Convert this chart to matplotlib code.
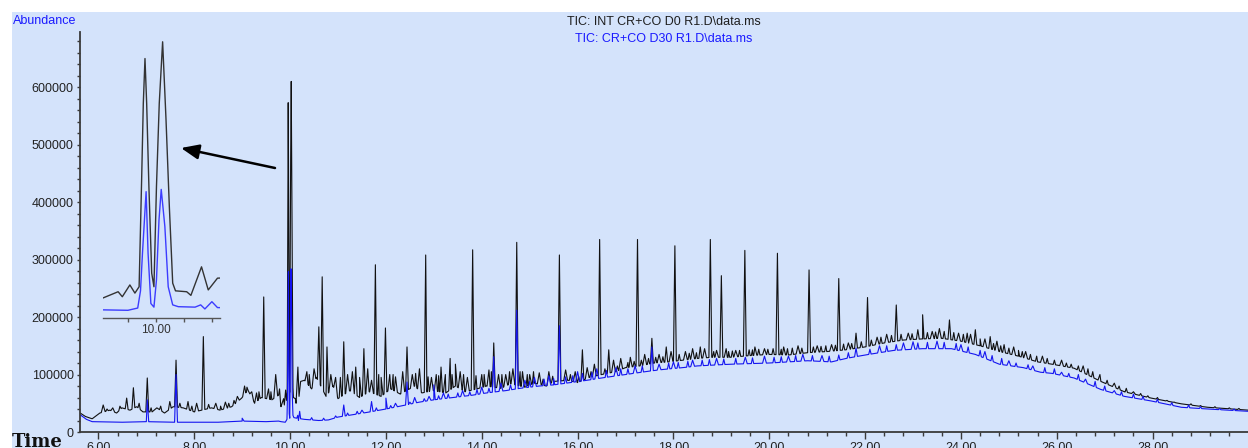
import numpy as np
import matplotlib
matplotlib.use("Agg")
import matplotlib.pyplot as plt
from matplotlib.patches import Rectangle
from matplotlib.ticker import MultipleLocator, FixedLocator, FuncFormatter

W, H = 1248, 448
BG = "#d4e3fb"
BLACK = "#111111"
BLUE = "#1414f0"

# --- black trace (INT CR+CO D0) : baseline anchors, minutes / abundance ---
black_base_t = [5.62, 5.73, 5.87, 6.03, 6.24, 6.38, 6.49, 6.66, 6.80, 6.93, 7.12, 7.22,
                7.38, 7.56, 7.77, 8.00, 8.36, 8.54, 8.78, 8.99, 9.12, 9.26, 9.40, 9.62,
                9.76, 10.30, 10.45, 10.55, 10.75, 10.90, 11.00, 11.25, 11.45, 11.65,
                11.90, 12.10, 12.30, 12.60, 12.75, 13.00, 13.25, 13.45, 13.65, 13.90,
                14.10, 14.40, 14.60, 14.90, 15.10, 15.35, 15.50, 15.80, 16.00, 16.25,
                16.50, 16.80, 17.00, 17.30, 17.60, 17.90, 18.20, 18.50, 18.80, 19.20,
                19.60, 20.00, 20.40, 20.80, 21.20, 21.60, 22.00, 22.40, 22.80, 23.20,
                23.60, 24.00, 24.40, 24.80, 25.20, 25.60, 25.90, 26.36, 26.92, 27.41,
                27.97, 28.60, 29.15, 30.00]
black_base_a = [33000, 27000, 23000, 33000, 38000, 33000, 42000, 38000, 44000, 35000,
                35000, 42000, 33000, 44000, 42000, 35000, 42000, 38000, 44000, 59000,
                73000, 50000, 60000, 56000, 64000, 90000, 75000, 95000, 62000, 80000,
                58000, 72000, 60000, 70000, 62000, 75000, 66000, 80000, 68000, 72000,
                68000, 80000, 70000, 75000, 80000, 76000, 84000, 78000, 85000, 80000,
                88000, 90000, 86000, 95000, 100000, 105000, 112000, 115000, 120000,
                122000, 125000, 128000, 130000, 130000, 133000, 135000, 134000, 138000,
                140000, 143000, 148000, 155000, 160000, 162000, 163000, 158000, 150000,
                140000, 132000, 122000, 118000, 111000, 88000, 70000, 59000, 49000,
                43000, 38000]

# main black peaks (apex time, apex abundance)
black_peak_t = [6.59, 6.73, 7.02, 7.49, 7.62, 7.87, 8.19, 9.45, 10.60, 10.67, 10.77,
                11.12, 11.37, 11.54, 11.78, 11.99, 12.44, 12.83, 13.15, 13.34, 13.81,
                14.25, 14.73, 15.62, 16.10, 16.46, 16.65, 17.25, 17.55, 17.85, 18.03,
                18.56, 18.77, 19.00, 19.49, 20.17, 20.83, 21.45, 21.81, 22.05, 22.65,
                23.10, 23.20, 23.76, 24.13, 24.30, 24.61, 24.90]
black_peak_a = [59000, 77000, 94000, 53000, 125000, 53000, 166000, 235000, 183000,
                270000, 148000, 157000, 113000, 145000, 291000, 181000, 148000, 308000,
                113000, 128000, 317000, 155000, 330000, 308000, 143000, 335000, 143000,
                335000, 163000, 148000, 324000, 148000, 335000, 272000, 316000, 311000,
                282000, 267000, 172000, 234000, 221000, 178000, 204000, 195000, 172000,
                178000, 166000, 152000]

# small black noise peaks
black_small_t = [6.10, 6.30, 8.05, 8.45, 8.65, 8.90, 9.05, 9.20, 9.30, 9.55, 9.70, 10.35,
                 10.50, 10.85, 10.95, 11.20, 11.30, 11.45, 11.62, 11.70, 11.90, 12.08,
                 12.20, 12.35, 12.55, 12.70, 12.95, 13.05, 13.24, 13.45, 13.55, 13.70,
                 14.00, 14.15, 14.35, 14.50, 14.65, 14.85, 15.00, 15.20, 15.40, 15.75,
                 15.95, 16.20, 16.35, 16.75, 16.90, 17.10, 17.40, 17.70, 17.95, 18.25,
                 18.40, 18.65, 18.90, 19.10, 19.30, 19.70, 19.90, 20.30, 20.60, 21.00,
                 21.30, 21.65, 22.25, 22.45, 22.90, 23.40, 23.55, 23.95, 24.20, 24.50,
                 24.75, 25.10, 25.35, 25.70, 26.10, 26.55, 26.90, 27.20, 27.60]
black_small_a = [47000, 42000, 50000, 50000, 52000, 62000, 80000, 70000, 68000, 75000,
                 100000, 105000, 110000, 100000, 95000, 100000, 105000, 95000, 110000,
                 90000, 95000, 100000, 96000, 105000, 100000, 110000, 95000, 100000,
                 100000, 118000, 105000, 95000, 100000, 108000, 100000, 100000, 110000,
                 105000, 100000, 103000, 105000, 108000, 105000, 112000, 118000, 125000,
                 128000, 130000, 135000, 135000, 140000, 140000, 145000, 145000, 142000,
                 145000, 142000, 148000, 145000, 148000, 150000, 150000, 152000, 155000,
                 165000, 170000, 172000, 175000, 180000, 172000, 170000, 162000, 158000,
                 148000, 140000, 132000, 125000, 115000, 100000, 85000, 70000]

# fine black grass
black_fine_t = [6.18, 6.45, 6.85, 7.10, 7.30, 7.70, 7.95, 8.30, 8.55, 8.72, 8.83, 9.10,
                9.35, 9.60, 9.78, 10.40, 11.05, 11.85, 12.15, 12.62, 12.88, 13.10, 13.38,
                13.62, 13.88, 14.05, 14.20, 14.42, 14.58, 14.80, 14.95, 15.08, 15.28,
                15.48, 15.85, 16.02, 16.28, 16.57, 16.83, 17.05, 17.18, 17.33, 17.48,
                17.63, 17.78, 18.12, 18.33, 18.48, 18.84, 19.15, 19.23, 19.38, 19.58,
                19.65, 19.78, 19.97, 20.08, 20.25, 20.38, 20.48, 20.68, 20.92, 21.08,
                21.18, 21.38, 21.55, 21.72, 21.92, 22.13, 22.33, 22.55, 22.75, 22.98,
                23.30, 23.47, 23.65, 23.85, 24.05, 24.40, 24.68, 24.83, 25.00, 25.20,
                25.28, 25.45, 25.58, 25.80, 25.95, 26.20, 26.30, 26.45, 26.65, 26.75,
                27.05, 27.30, 27.45, 27.75, 27.90, 28.10, 28.30, 28.45, 28.80, 29.00,
                29.30, 29.60, 29.80]
black_fine_a = [40000, 45000, 50000, 42000, 45000, 50000, 45000, 48000, 45000, 50000,
                55000, 78000, 70000, 70000, 75000, 100000, 95000, 100000, 100000, 102000,
                96000, 98000, 100000, 100000, 98000, 100000, 105000, 100000, 105000,
                105000, 100000, 105000, 92000, 97000, 100000, 97000, 105000, 110000,
                115000, 121000, 123000, 125000, 128000, 130000, 131000, 135000, 137000,
                138000, 140000, 140000, 141000, 142000, 143000, 143000, 144000, 144000,
                145000, 144000, 145000, 146000, 146000, 148000, 149000, 150000, 151000,
                153000, 154000, 157000, 160000, 165000, 168000, 170000, 171000, 173000,
                174000, 175000, 173000, 170000, 162000, 154000, 150000, 146000, 142000,
                140000, 135000, 132000, 128000, 125000, 120000, 118000, 115000, 110000,
                105000, 90000, 80000, 76000, 67000, 63000, 60000, 55000, 52000, 49000,
                46000, 44000, 42000, 41000]

# detailed black segment around the 10 min doublet (also shown in the inset)
black_seg_t = [9.81, 9.865, 9.88, 9.907, 9.925, 9.940, 9.949, 9.955, 9.961, 9.967, 9.975,
               9.985, 9.993, 10.002, 10.012, 10.024, 10.036, 10.048, 10.060, 10.070,
               10.11, 10.125, 10.163, 10.187, 10.22]
black_seg_a = [44000, 58000, 47000, 73000, 55000, 69000, 305000, 474000, 573000, 474000,
               290000, 99000, 69000, 290000, 474000, 610000, 440000, 246000, 77000,
               60000, 58000, 50000, 113000, 62000, 88000]

# --- blue trace (CR+CO D30) ---
blue_base_t = [5.62, 5.75, 5.87, 6.50, 7.00, 7.50, 8.00, 8.50, 9.00, 9.50, 9.76, 10.30,
               10.60, 10.80, 11.00, 11.30, 11.60, 12.00, 12.30, 12.70, 13.00, 13.40,
               13.80, 14.10, 14.50, 14.80, 15.20, 15.50, 15.85, 16.20, 16.50, 17.00,
               17.50, 17.80, 18.20, 18.50, 19.20, 20.00, 20.80, 21.30, 21.60, 22.00,
               22.60, 23.20, 23.80, 24.30, 24.80, 25.30, 25.66, 25.90, 26.36, 26.92,
               27.41, 27.97, 28.60, 29.15, 30.00]
blue_base_a = [30000, 22000, 18000, 17000, 18000, 17000, 17000, 17000, 19000, 18000,
               19000, 22000, 20000, 21000, 26000, 30000, 34000, 40000, 45000, 52000,
               56000, 60000, 64000, 68000, 72000, 76000, 80000, 82000, 86000, 90000,
               94000, 100000, 106000, 109000, 112000, 115000, 118000, 120000, 124000,
               122000, 128000, 134000, 142000, 145000, 145000, 135000, 118000, 112000,
               104000, 102000, 94000, 74000, 62000, 54000, 43000, 40000, 36000]

blue_peak_t = [7.02, 7.62, 11.12, 11.70, 12.00, 12.44, 13.00, 14.25, 14.73, 15.62, 17.55,
               21.81]
blue_peak_a = [56000, 100000, 47000, 53000, 59000, 87000, 82000, 131000, 212000, 185000,
               148000, 146000]

blue_small_t = [9.00, 11.50, 12.20, 12.60, 12.90, 13.20, 13.60, 14.00, 14.40, 14.90,
                15.10, 15.40, 16.00, 16.40, 16.80, 17.20, 17.70, 18.00, 18.40, 18.90,
                19.50, 19.90, 20.40, 20.70, 21.10, 22.30, 22.80, 23.00, 23.50, 24.00,
                24.50, 25.00, 25.50, 26.10, 26.60, 27.20]
blue_small_a = [24000, 38000, 50000, 60000, 62000, 68000, 72000, 78000, 85000, 90000,
                95000, 98000, 105000, 110000, 112000, 115000, 118000, 122000, 125000,
                128000, 130000, 132000, 132000, 135000, 133000, 150000, 155000, 157000,
                158000, 152000, 140000, 124000, 115000, 104000, 92000, 72000]

blue_fine_t = [10.45, 10.70, 10.95, 11.20, 11.40, 11.80, 12.10, 12.50, 12.80, 13.10,
               13.30, 13.50, 13.75, 13.90, 14.15, 14.60, 15.00, 15.30, 15.50, 15.75,
               15.90, 16.10, 16.30, 16.60, 16.90, 17.05, 17.35, 17.90, 18.10, 18.30,
               18.60, 18.75, 19.05, 19.30, 19.65, 20.10, 20.25, 20.55, 20.90, 21.25,
               21.45, 21.65, 22.10, 22.45, 22.65, 23.10, 23.30, 23.65, 23.90, 24.15,
               24.40, 24.65, 24.85, 25.15, 25.40, 25.75, 25.95, 26.25, 26.45, 26.80,
               27.00, 27.35, 27.60, 27.80, 28.10, 28.40, 28.75, 29.00, 29.40, 29.70]
blue_fine_a = [25000, 24000, 28000, 33000, 36000, 42000, 46000, 52000, 58000, 63000,
               66000, 68000, 70000, 74000, 76000, 82000, 88000, 92000, 93000, 96000,
               98000, 102000, 104000, 107000, 110000, 110000, 115000, 120000, 121000,
               123000, 125000, 126000, 127000, 128000, 129000, 130000, 131000, 133000,
               133000, 132000, 134000, 138000, 144000, 150000, 152000, 155000, 156000,
               156000, 154000, 148000, 142000, 133000, 128000, 120000, 117000, 112000,
               110000, 102000, 100000, 88000, 80000, 70000, 66000, 62000, 57000, 51000,
               47000, 44000, 41000, 40000]

blue_seg_t = [9.81, 9.90, 9.935, 9.945, 9.952, 9.965, 9.972, 9.982, 9.993, 10.002, 10.011,
              10.019, 10.032, 10.044, 10.06, 10.08, 10.14, 10.16, 10.175, 10.20, 10.22]
blue_seg_a = [18000, 17000, 22000, 60000, 143000, 279000, 143000, 32000, 24000, 84000,
              216000, 284000, 202000, 69000, 29000, 25000, 24000, 29000, 20000, 36000,
              23000]

title_lines = ["TIC: INT CR+CO D0 R1.D\\data.ms", "TIC: CR+CO D30 R1.D\\data.ms"]


def build_trace(base_t, base_a, seg_t, seg_a, peak_sets):
    # baseline points + detailed segment, then narrow spikes on top
    bt = np.array(list(base_t) + list(seg_t), dtype=float)
    ba = np.array(list(base_a) + list(seg_a), dtype=float)
    order = np.argsort(bt)
    bt, ba = bt[order], ba[order]
    ts, As = list(bt), list(ba)
    for pt, pa, hw in peak_sets:
        for t, a in zip(pt, pa):
            for dt in (-hw, hw):
                ts.append(t + dt)
                As.append(np.interp(t + dt, bt, ba))
            ts.append(t)
            As.append(a)
    ts, As = np.array(ts), np.array(As)
    order = np.argsort(ts, kind="stable")
    return ts[order], As[order]


bk_t, bk_a = build_trace(black_base_t, black_base_a, black_seg_t, black_seg_a,
                         [(black_peak_t, black_peak_a, 0.03),
                          (black_small_t, black_small_a, 0.04),
                          (black_fine_t, black_fine_a, 0.025)])
bl_t, bl_a = build_trace(blue_base_t, blue_base_a, blue_seg_t, blue_seg_a,
                         [(blue_peak_t, blue_peak_a, 0.03),
                          (blue_small_t, blue_small_a, 0.04),
                          (blue_fine_t, blue_fine_a, 0.025)])

plt.rcParams["font.family"] = ["Liberation Sans", "DejaVu Sans"]

fig = plt.figure(figsize=(W / 100, H / 100), dpi=100, facecolor="white")
fig.patches.append(Rectangle((12 / W, 0), 1 - 12 / W, 1 - 12 / H, transform=fig.transFigure,
                             facecolor=BG, edgecolor="none", zorder=-10))

ax = fig.add_axes([80 / W, 16 / H, (W - 80) / W, 400 / H])
ax.set_facecolor("none")
ax.plot(bk_t, bk_a, color=BLACK, lw=0.8)
ax.plot(bl_t, bl_a, color=BLUE, lw=0.8)
ax.set_xlim(5.616, 29.99)
ax.set_ylim(0, 696000)
for s in ("top", "right"):
    ax.spines[s].set_visible(False)
for s in ("left", "bottom"):
    ax.spines[s].set_color("#3a3a3a")
    ax.spines[s].set_linewidth(1.3)
ax.xaxis.set_major_locator(MultipleLocator(2))
ax.xaxis.set_minor_locator(MultipleLocator(0.4))
ax.xaxis.set_major_formatter(FuncFormatter(lambda v, p: f"{v:.2f}"))
ax.yaxis.set_major_locator(MultipleLocator(100000))
ax.yaxis.set_minor_locator(MultipleLocator(20000))
ax.yaxis.set_major_formatter(FuncFormatter(lambda v, p: f"{v:.0f}"))
ax.tick_params(axis="x", which="major", length=5, width=1, color="#3a3a3a", pad=2.5,
               labelsize=9, labelcolor="#222222")
ax.tick_params(axis="x", which="minor", length=3, width=1, color="#3a3a3a")
ax.tick_params(axis="y", which="both", length=2.5, width=1, color="#3a3a3a", pad=2,
               labelsize=9, labelcolor="#222222")

# inset zoom of the 10 min doublet
axi = fig.add_axes([103 / W, (H - 318) / H, 117 / W, 283 / H])
axi.set_facecolor("none")
axi.plot(bk_t, bk_a, color="#333333", lw=1.0)
axi.plot(bl_t, bl_a, color="#3c3cff", lw=1.0)
axi.set_xlim(9.811, 10.229)
axi.set_ylim(0, 625000)
for s in ("top", "right", "left"):
    axi.spines[s].set_visible(False)
axi.spines["bottom"].set_color("#555555")
axi.spines["bottom"].set_linewidth(1.0)
axi.set_yticks([])
axi.xaxis.set_major_locator(FixedLocator([10.0]))
axi.xaxis.set_minor_locator(FixedLocator([9.9, 10.1, 10.2]))
axi.xaxis.set_major_formatter(FuncFormatter(lambda v, p: f"{v:.2f}"))
axi.tick_params(axis="x", which="both", length=3, width=1, color="#555555", pad=1.5,
                labelsize=8.5, labelcolor="#333333")

ax.annotate("", xy=(181, H - 148), xytext=(275, H - 168), xycoords="figure pixels",
            textcoords="figure pixels", annotation_clip=False,
            arrowprops=dict(arrowstyle="-|>,head_length=0.6,head_width=0.25",
                            mutation_scale=18, color="black", lw=1.8,
                            shrinkA=0, shrinkB=0))

fig.text(13 / W, 1 - 21 / H, "Abundance", color="#1a1aff", fontsize=9, va="center",
         ha="left")
fig.text(664 / W, 1 - 22 / H, title_lines[0], color="#1e1e1e", fontsize=9, va="center",
         ha="center")
fig.text(664 / W, 1 - 39 / H, title_lines[1], color="#1a1aff", fontsize=9, va="center",
         ha="center")
fig.text(12 / W, 1 - 433 / H, "Time", color="#111111", fontsize=13, fontweight="bold",
         family="DejaVu Serif", va="top", ha="left")

fig.savefig("out.png", dpi=100, facecolor="white")
